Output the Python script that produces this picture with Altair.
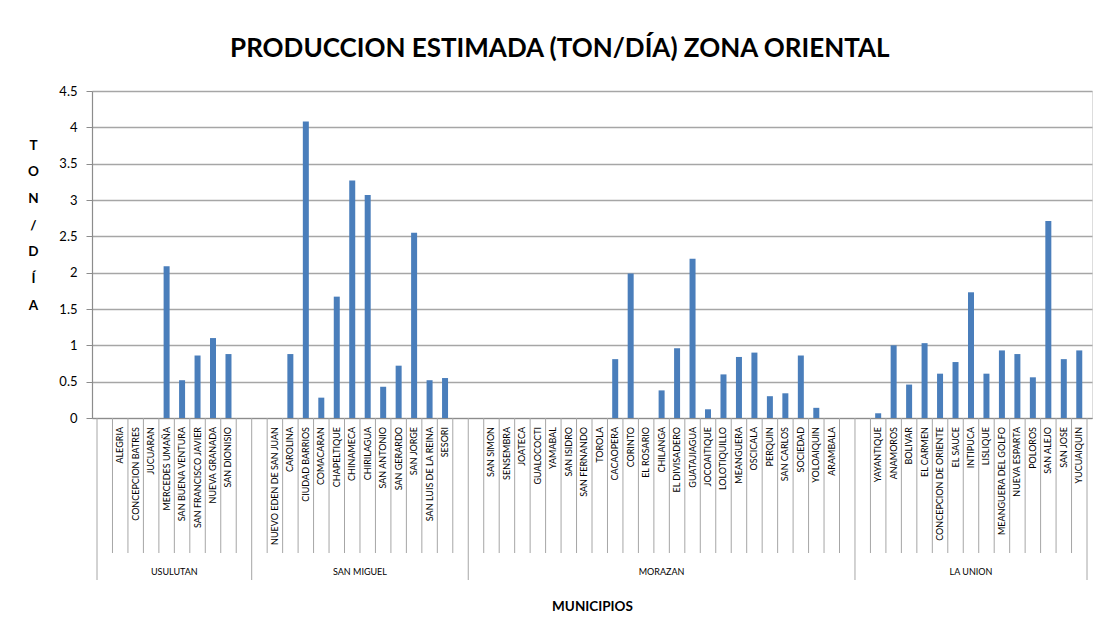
import altair as alt
import pandas as pd

TITLE = "PRODUCCION ESTIMADA (TON/DÍA) ZONA ORIENTAL"
X_TITLE = "MUNICIPIOS"
Y_TITLE = ["T", "O", "N", "/", "D", "Í", "A"]

groups = ["USULUTAN", "SAN MIGUEL", "MORAZAN", "LA UNION"]

usulutan_names = ["", "ALEGRIA", "CONCEPCION BATRES", "JUCUARAN", "MERCEDES UMAÑA",
                  "SAN BUENA VENTURA", "SAN FRANCISCO JAVIER", "NUEVA GRANADA",
                  "SAN DIONISIO", ""]
usulutan_vals = [None, 0, 0, 0, 2.09, 0.52, 0.86, 1.10, 0.88, None]

san_miguel_names = ["", "NUEVO EDEN DE SAN JUAN", "CAROLINA", "CIUDAD BARRIOS", "COMACARAN",
                    "CHAPELTIQUE", "CHINAMECA", "CHIRILAGUA", "SAN ANTONIO", "SAN GERARDO",
                    "SAN JORGE", "SAN LUIS DE LA REINA", "SESORI", ""]
san_miguel_vals = [None, 0, 0.88, 4.08, 0.28, 1.67, 3.27, 3.07, 0.43, 0.72, 2.55, 0.52, 0.55, None]

morazan_names = ["", "SAN SIMON", "SENSEMBRA", "JOATECA", "GUALOCOCTI", "YAMABAL", "SAN ISIDRO",
                 "SAN FERNANDO", "TOROLA", "CACAOPERA", "CORINTO", "EL ROSARIO", "CHILANGA",
                 "EL DIVISADERO", "GUATAJIAGUA", "JOCOAITIQUE", "LOLOTIQUILLO", "MEANGUERA",
                 "OSCICALA", "PERQUIN", "SAN CARLOS", "SOCIEDAD", "YOLOAIQUIN", "ARAMBALA", ""]
morazan_vals = [None, 0, 0, 0, 0, 0, 0, 0, 0, 0.81, 1.99, 0, 0.38, 0.96, 2.19, 0.12, 0.60,
                0.84, 0.90, 0.30, 0.34, 0.86, 0.14, 0, None]

la_union_names = ["", "YAYANTIQUE", "ANAMOROS", "BOLIVAR", "EL CARMEN", "CONCEPCION DE ORIENTE",
                  "EL SAUCE", "INTIPUCA", "LISLIQUE", "MEANGUERA DEL GOLFO", "NUEVA ESPARTA",
                  "POLOROS", "SAN ALEJO", "SAN JOSE", "YUCUAIQUIN"]
la_union_vals = [None, 0.065, 1.00, 0.46, 1.03, 0.61, 0.77, 1.73, 0.61, 0.93, 0.88, 0.56,
                 2.71, 0.81, 0.93]

y_ticks = [0, 0.5, 1, 1.5, 2, 2.5, 3, 3.5, 4, 4.5]

# ---- build tables ----
all_names = [usulutan_names, san_miguel_names, morazan_names, la_union_names]
all_vals = [usulutan_vals, san_miguel_vals, morazan_vals, la_union_vals]

slot_rows, group_rows, bound_rows = [], [], []
i = 0
for g, names, vals in zip(groups, all_names, all_vals):
    start = i
    bound_rows.append({"b": start, "long": True})
    for n, v in zip(names, vals):
        slot_rows.append({"c": i + 0.5, "name": n, "v": v, "group": g})
        if i != start:
            bound_rows.append({"b": i, "long": False})
        i += 1
    group_rows.append({"gc": (start + i) / 2, "g": g})
bound_rows.append({"b": i, "long": True})
N = i

slots = pd.DataFrame(slot_rows)
bars_df = slots.dropna(subset=["v"])
bars_df = bars_df[bars_df["v"] > 0]
names_df = slots[slots["name"] != ""]
bounds = pd.DataFrame(bound_rows)
short_b = bounds[~bounds["long"]]
long_b = bounds[bounds["long"]]
groups_df = pd.DataFrame(group_rows)

FONT = "Lato"
LBL_FONT = "Liberation Sans Narrow, Lato, sans-serif"
xs = alt.Scale(domain=[0, N], nice=False, zero=False)
xaxis = alt.Axis(labels=False, ticks=False, grid=False, title=X_TITLE,
                 domainColor="#8c8c8c", domainWidth=1.2,
                 titleFont=FONT, titleFontSize=13.5, titleFontWeight="bold",
                 titleColor="#000000", titleY=188, titleBaseline="middle")

yaxis = alt.Axis(values=y_ticks, format="~g", grid=True, gridColor="#a6a6a6", gridWidth=1.3,
                 domainColor="#8c8c8c", domainWidth=1.2, tickColor="#8c8c8c", tickSize=6,
                 labelPadding=9, labelFont=FONT, labelFontSize=13, labelColor="#000000",
                 title=Y_TITLE, titleAngle=0, titleX=-59, titleY=54, titleBaseline="middle",
                 titleAlign="center", titleLineHeight=26.7, titleFont=FONT,
                 titleFontSize=13.5, titleFontWeight="bold", titleColor="#000000")

bars = alt.Chart(bars_df).mark_bar(size=6, color="#4a7ebb").encode(
    x=alt.X("c:Q", scale=xs, axis=xaxis),
    y=alt.Y("v:Q", scale=alt.Scale(domain=[0, 4.5], nice=False), axis=yaxis),
)

short_rules = alt.Chart(short_b).mark_rule(color="#a6a6a6", strokeWidth=1).encode(
    x=alt.X("b:Q", scale=xs, axis=xaxis),
    y=alt.value(327), y2=alt.value(462),
)
long_rules = alt.Chart(long_b).mark_rule(color="#a6a6a6", strokeWidth=1).encode(
    x=alt.X("b:Q", scale=xs, axis=xaxis),
    y=alt.value(327), y2=alt.value(489),
)

labels = alt.Chart(names_df).mark_text(
    angle=270, align="right", baseline="middle", font=LBL_FONT, fontSize=9, color="#000000"
).encode(
    x=alt.X("c:Q", scale=xs, axis=xaxis),
    y=alt.value(336),
    text="name:N",
)

glabels = alt.Chart(groups_df).mark_text(
    align="center", baseline="middle", font=LBL_FONT, fontSize=9, color="#000000"
).encode(
    x=alt.X("gc:Q", scale=xs, axis=xaxis),
    y=alt.value(481),
    text="g:N",
)

chart = alt.layer(bars, short_rules, long_rules, labels, glabels).properties(
    width=1000, height=327,
    autosize=alt.AutoSizeParams(type="none"),
    padding={"left": 84, "top": 83, "right": 1, "bottom": 196},
    title=alt.TitleParams(TITLE, font=FONT, fontSize=26, fontWeight="bold", color="#000000",
                          anchor="middle", frame="bounds", offset=23),
).configure_view(stroke=None).configure(background="white")

chart.save("out.html", embed_options={"renderer": "svg", "actions": False})
